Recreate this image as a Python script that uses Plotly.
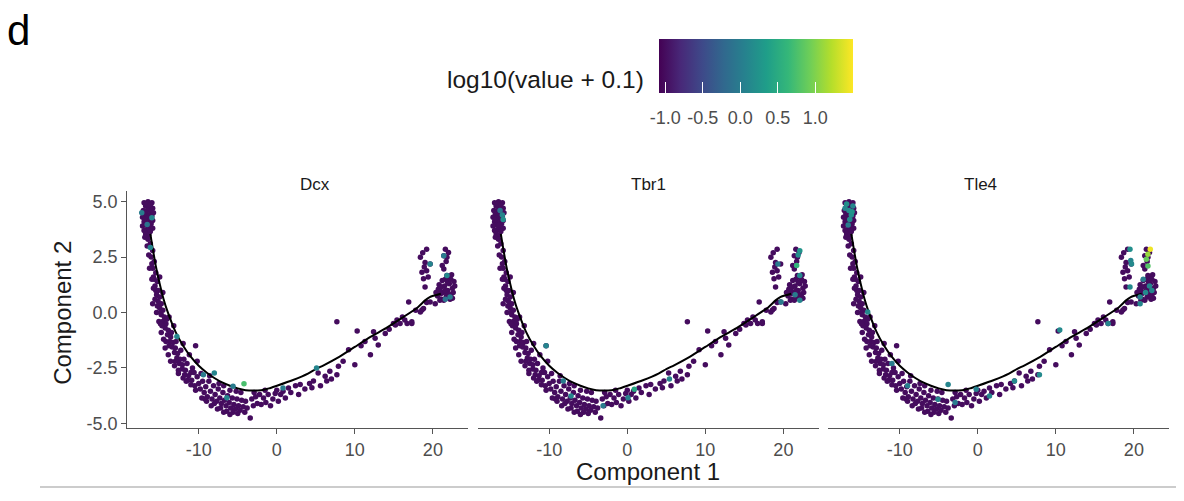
import plotly.graph_objects as go

# ---------------- data ----------------
genes = ["Dcx", "Tbr1", "Tle4"]

# shared cell coordinates (Component 1, Component 2)
cell_x = [
    # top-left cluster
    -17.0,-16.5,-16.0,-16.8,-16.3,-17.1,-16.6,-16.1,-15.9,-16.9,-16.4,-16.0,-17.2,-16.7,-16.2,-15.9,-17.0,-16.5,
    -16.1,-16.8,-17.2,-16.3,-15.9,-16.6,-17.0,-16.2,-16.8,-16.4,-16.9,-16.5,-16.7,-16.2,-15.8,-16.9,-16.4,
    # left arm
    -16.2,-15.9,-16.1,-15.7,-15.9,-15.5,-15.7,-15.3,-15.6,-15.2,-15.4,-15.0,-15.2,-14.8,-15.0,-14.6,-14.8,-14.4,
    -14.6,-14.2,-14.3,-13.9,-14.0,-13.6,-13.7,-13.3,-13.4,-13.0,-13.1,-12.7,-12.8,-12.4,-12.5,-12.1,-12.1,-11.7,
    -11.8,-11.3,-11.4,-10.9,-11.0,-10.5,-14.9,-13.5,-12.9,-12.3,-11.9,-11.5,-15.5,-14.1,
    -15.0,-14.6,-13.8,-13.2,-12.0,-11.2,-10.4,-10.8,-10.2,-11.0,-12.6,-13.0,-14.2,-14.7,-15.3,-15.8,-16.0,
    -16.6,-16.4,-16.3,-16.0,-15.8,-15.6,-15.4,-15.1,-14.8,-14.5,-14.3,-13.9,-13.6,-13.1,-12.6,-12.0,-11.6,
    -15.9,-14.9,-13.8,
    # bottom
    -10.2,-10.0,-9.8,-9.5,-9.3,-9.1,-8.9,-8.7,-8.5,-8.3,-8.1,-7.9,-7.7,-7.5,-7.3,-7.1,-6.9,-6.7,-6.5,-6.3,-6.1,
    -5.9,-5.7,-5.5,-5.3,-5.1,-4.9,-4.7,-4.5,-4.3,-4.0,-3.8,-3.4,-3.2,-3.0,-2.7,-2.5,-2.2,-2.0,-1.7,-1.4,-1.1,
    -0.8,-0.5,-0.2,0.2,0.5,0.8,1.1,-6.8,-5.2,-8.6,-9.7,-7.4,-4.6,-2.9,-1.5,0.0,-6.0,-10.6,-10.4,-9.0,-7.2,
    -5.6,-4.1,-6.4,1.5,
    -9.2,-8.4,-7.6,-6.8,-6.0,-5.0,-8.0,-9.6,
    # right arm
    1.8,2.4,2.8,3.0,3.6,4.2,4.5,4.7,5.3,5.6,6.2,6.4,6.8,7.0,7.7,7.9,7.7,8.5,9.2,10.0,10.3,10.8,11.3,12.0,12.4,
    12.6,13.0,13.9,14.4,14.95,15.4,15.8,16.1,16.4,16.7,17.3,17.3,15.2,16.9,17.8,18.4,18.6,18.8,19.2,19.65,20.3,20.9,
    # upper right arms
    19.2,18.4,19.0,19.65,18.6,19.2,18.8,19.0,18.9,19.4,18.7,
    21.6,22.0,21.4,21.8,21.2,21.8,21.4,21.7,
    # right blob
    20.6,20.9,21.1,21.3,21.5,21.7,21.9,22.1,22.3,22.5,22.7,20.8,21.2,21.6,22.0,22.4,22.6,21.0,21.4,21.8,22.2,
    22.8,20.7,21.9,22.3,21.1,21.6,22.0,22.5,20.4,
]
cell_y = [
    4.95,5.0,4.95,4.8,4.75,4.6,4.6,4.55,4.7,4.45,4.4,4.35,4.3,4.25,4.2,4.15,4.1,4.05,
    4.0,3.95,3.9,3.85,3.8,3.75,3.7,3.65,3.55,3.5,3.4,3.3,4.9,4.85,4.5,4.2,3.95,
    3.1,2.8,2.5,2.3,2.0,1.8,1.5,1.4,1.2,1.0,0.8,0.7,0.5,0.4,0.2,0.1,-0.1,-0.2,
    -0.4,-0.5,-0.7,-0.8,-1.0,-1.1,-1.3,-1.35,-1.55,-1.6,-1.8,-1.85,-2.05,-2.1,-2.3,-2.35,-2.55,-2.6,
    -2.8,-2.85,-3.05,-3.05,-3.25,-3.3,0.0,-0.9,-1.3,-1.7,-2.1,-2.3,1.0,-0.3,
    1.6,0.9,-0.2,-0.6,-1.4,-1.9,-1.5,-2.5,-2.2,-2.7,-2.6,-2.2,-1.3,-0.6,0.3,1.6,2.2,
    3.0,2.6,2.0,1.5,1.1,0.6,0.0,-0.4,-0.9,-1.2,-1.6,-1.9,-2.2,-2.4,-2.75,-2.95,-3.1,
    0.4,-0.5,-1.5,
    -2.9,-3.2,-3.45,-3.1,-3.6,-3.35,-3.8,-3.1,-3.55,-3.9,-3.3,-3.7,-4.0,-3.45,-3.85,-4.1,-3.6,-3.95,-4.2,-3.75,-4.05,
    -4.3,-3.85,-4.15,-4.35,-3.9,-4.2,-4.4,-3.95,-4.25,-4.0,-4.3,-4.75,-3.9,-4.2,-3.8,-4.1,-3.7,-4.15,-3.85,-4.05,-3.7,
    -4.2,-3.9,-3.65,-4.0,-3.7,-3.55,-3.85,-3.3,-3.55,-2.85,-2.75,-3.2,-3.6,-3.6,-3.5,-3.5,-3.5,-2.7,-3.5,-4.0,-4.3,
    -4.5,-4.5,-4.45,-3.4,
    -3.9,-4.2,-4.35,-4.5,-4.6,-4.55,-4.1,-3.85,
    -3.6,-3.3,-3.7,-3.24,-3.45,-3.2,-3.39,-3.09,-2.72,-3.3,-2.87,-3.09,-2.65,-3.0,-2.8,-2.42,-0.42,-2.2,-1.68,-2.35,-0.83,-1.5,-1.3,-1.9,-0.86,
    -1.16,-1.46,-0.94,-0.75,-0.49,-0.34,-0.49,-0.2,-0.34,-0.49,-0.49,-0.42,-0.56,0.48,0.1,0.03,0.11,0.18,0.45,0.48,0.4,0.55,
    2.86,2.49,2.26,2.19,1.82,1.89,1.52,1.15,2.05,1.6,2.7,
    2.86,2.71,2.56,2.49,2.12,1.67,1.96,2.3,
    0.75,1.0,0.6,0.9,1.2,0.7,1.0,1.3,0.8,1.1,1.4,1.25,1.45,1.5,1.6,1.7,0.9,0.85,0.55,0.85,0.6,
    1.2,1.05,1.35,1.5,1.15,1.0,0.8,0.65,0.9,
]
base_value = -1.0  # log10(0 + 0.1) for non-expressing cells

# expressing cells per gene: x, y, log10(value + 0.1)
dcx_x = [-17.3,-16.0,-16.6,-16.2,-12.8,-9.4,-8.0,-5.6,-6.4,-4.2,0.8,5.1,19.65,21.4,21.8,21.6,22.2]
dcx_y = [4.5,4.27,3.97,2.93,-1.08,-2.8,-2.72,-3.32,-3.84,-3.21,-3.4,-2.5,2.19,2.56,1.67,0.6,0.7]
dcx_v = [0.0,0.1,-0.1,0.1,0.1,0.0,0.1,0.0,0.1,0.75,0.0,0.1,0.1,0.0,0.15,-0.1,0.0]

tbr1_x = [-16.0,-15.9,-16.3,-10.4,-8.2,-7.2,-3.1,0.1,0.9,5.4,19.3,21.7,22.1,21.9,22.1,19.7,22.1,21.5]
tbr1_y = [4.4,4.2,4.6,-1.5,-3.09,-3.76,-4.2,-3.84,-3.46,-3.0,2.19,2.12,2.79,2.6,1.67,0.48,0.55,0.8]
tbr1_v = [0.1,0.2,-0.1,0.1,0.0,0.1,0.0,0.05,0.45,0.1,0.0,0.6,0.25,0.2,0.15,0.0,0.1,0.0]

tle4_x = [-16.8,-16.5,-16.2,-16.0,-16.4,-17.0,-16.1,-16.6,-14.1,-5.1,-3.8,-2.9,-0.2,1.5,4.7,7.9,10.5,16.7,
          19.5,19.7,19.6,19.5,22.1,21.8,21.6,21.8,22.0,21.5,20.8,22.3,21.2,20.8,-11.0,-9.0]
tle4_y = [4.9,4.6,4.4,4.8,4.2,4.7,4.55,3.95,0.03,-3.91,-3.24,-4.06,-3.46,-3.76,-3.09,-2.8,-0.79,-0.49,
          2.86,2.19,2.35,1.15,2.86,2.63,2.4,2.1,1.2,0.9,0.7,1.0,1.5,0.4,-2.3,-3.3]
tle4_v = [0.2,0.15,0.2,0.1,0.15,0.1,0.25,0.0,0.1,0.1,0.1,0.0,0.05,0.1,0.15,0.15,0.15,0.1,
          0.2,0.15,0.1,0.15,1.45,1.1,0.9,0.8,0.1,0.15,0.05,0.1,0.0,0.1,0.0,0.05]

# principal curve (trajectory)
curve_x = [-16.2,-15.5,-15.0,-14.5,-14.0,-13.0,-12.0,-11.0,-10.0,-9.0,-8.0,-7.0,-6.0,-5.0,-4.0,-3.0,-2.0,-1.0,
           0.0,2.0,4.0,5.0,6.0,8.0,10.0,12.0,14.0,16.0,18.0,19.0,19.6,21.0]
curve_y = [3.55,2.1,1.3,0.6,0.05,-0.85,-1.5,-2.0,-2.4,-2.7,-2.95,-3.15,-3.3,-3.42,-3.5,-3.52,-3.5,-3.42,
           -3.3,-3.05,-2.75,-2.55,-2.38,-2.0,-1.55,-1.1,-0.7,-0.25,0.22,0.55,0.7,0.85]

x_ticks = [-10, 0, 10, 20]
x_tick_text = ["-10", "0", "10", "20"]
y_ticks = [-5.0, -2.5, 0.0, 2.5, 5.0]
y_tick_text = ["-5.0", "-2.5", "0.0", "2.5", "5.0"]
cb_ticks = [-1.0, -0.5, 0.0, 0.5, 1.0]
cb_tick_text = ["-1.0", "-0.5", "0.0", "0.5", "1.0"]
cb_min, cb_max = -1.08, 1.507

# ---------------- figure ----------------
OFF = 8                      # page body margin of the html page
W, H = 1184 - 2 * OFF, 501 - 2 * OFF
FONT = "Liberation Sans, Arial, Helvetica, sans-serif"
GRAY = "#4d4d4d"
LINE = "#555555"

def fx(px):
    return (px - OFF) / W

def fy(py):
    return 1 - (py - OFF) / H

panel_px = [(127.3, 468.0), (477.8, 818.5), (828.3, 1169.0)]
y_dom = [fy(432.7), fy(192.7)]
x_range = [-19.15, 24.5]
y_range = [-5.22, 5.49]

highlights = {
    "Dcx": (dcx_x, dcx_y, dcx_v),
    "Tbr1": (tbr1_x, tbr1_y, tbr1_v),
    "Tle4": (tle4_x, tle4_y, tle4_v),
}
# two identical colour axes: one carries the labels, one the white in-bar ticks
cax_names = ["coloraxis", "coloraxis2", "coloraxis"]

fig = go.Figure()
for i, g in enumerate(genes):
    sfx = "" if i == 0 else str(i + 1)
    xa, ya = "x" + sfx, "y" + sfx
    fig.add_trace(go.Scatter(
        x=cell_x, y=cell_y, mode="markers", xaxis=xa, yaxis=ya,
        marker=dict(size=5.5, color=[base_value] * len(cell_x), coloraxis=cax_names[i], line=dict(width=0)),
        showlegend=False, hoverinfo="skip"))
    fig.add_trace(go.Scatter(
        x=curve_x, y=curve_y, mode="lines", xaxis=xa, yaxis=ya,
        line=dict(color="black", width=2, shape="spline", smoothing=0.6),
        showlegend=False, hoverinfo="skip"))
    hx, hy, hv = highlights[g]
    order = sorted(range(len(hv)), key=lambda k: hv[k])
    fig.add_trace(go.Scatter(
        x=[hx[k] for k in order], y=[hy[k] for k in order], mode="markers", xaxis=xa, yaxis=ya,
        marker=dict(size=5.5, color=[hv[k] for k in order], coloraxis="coloraxis", line=dict(width=0)),
        showlegend=False, hoverinfo="skip"))

    x0, x1 = panel_px[i]
    fig.layout["xaxis" + sfx] = dict(
        domain=[fx(x0), fx(x1)], range=x_range, anchor=ya, showgrid=False, zeroline=False,
        showline=True, linecolor=LINE, linewidth=1.3, ticks="outside", ticklen=5, tickwidth=1.3,
        tickcolor=LINE, tickvals=x_ticks, ticktext=x_tick_text,
        tickfont=dict(family=FONT, size=18, color=GRAY))
    fig.layout["yaxis" + sfx] = dict(
        domain=y_dom, range=y_range, anchor=xa, showgrid=False, zeroline=False,
        showline=(i == 0), linecolor=LINE, linewidth=1.3,
        ticks="outside" if i == 0 else "", ticklen=5, tickwidth=1.3, tickcolor=LINE,
        tickvals=y_ticks, ticktext=y_tick_text, showticklabels=(i == 0),
        tickfont=dict(family=FONT, size=18, color=GRAY))
    fig.add_annotation(text=g, x=fx((x0 + x1) / 2), y=fy(186), xref="paper", yref="paper",
                       showarrow=False, font=dict(family=FONT, size=17, color="#1a1a1a"))

CB_L, CB_R, CB_T, CB_B = 659.3, 853.3, 39.3, 93.3
cb_common = dict(orientation="h", x=fx((CB_L + CB_R) / 2), xanchor="center", y=fy(CB_T), yanchor="top",
                 len=CB_R - CB_L, lenmode="pixels", thickness=CB_B - CB_T, thicknessmode="pixels",
                 outlinewidth=0, xpad=0, ypad=0, tickvals=cb_ticks, ticktext=cb_tick_text)
fig.update_layout(
    width=W, height=H, margin=dict(l=0, r=0, t=0, b=0),
    paper_bgcolor="white", plot_bgcolor="white",
    coloraxis=dict(colorscale="Viridis", cmin=cb_min, cmax=cb_max,
                   colorbar=dict(**cb_common, ticks="outside", ticklen=10, tickcolor="white",
                                 tickfont=dict(family=FONT, size=18, color=GRAY))),
    coloraxis2=dict(colorscale="Viridis", cmin=cb_min, cmax=cb_max,
                    colorbar=dict(**cb_common, ticks="inside", ticklen=11, tickcolor="white",
                                  tickwidth=1, showticklabels=False)),
)

# white tick marks along the top edge of the colour bar (ggplot draws them on both edges)
for v in cb_ticks:
    px = CB_L + (v - cb_min) / (cb_max - cb_min) * (CB_R - CB_L)
    fig.add_shape(type="line", xref="paper", yref="paper", x0=fx(px), x1=fx(px),
                  y0=fy(CB_T), y1=fy(CB_T + 11), line=dict(color="white", width=1))

fig.add_annotation(text="d", x=fx(18), y=fy(31), xref="paper", yref="paper", showarrow=False,
                   xanchor="center", yanchor="middle", font=dict(family=FONT, size=42, color="black"))
fig.add_annotation(text="log10(value + 0.1)", x=fx(646), y=fy(80), xref="paper", yref="paper",
                   showarrow=False, xanchor="right", yanchor="middle",
                   font=dict(family=FONT, size=24.5, color="#1a1a1a"))
fig.add_annotation(text="Component 1", x=fx(648), y=fy(476), xref="paper", yref="paper",
                   showarrow=False, xanchor="center", yanchor="middle",
                   font=dict(family=FONT, size=24, color="#1a1a1a"))
fig.add_annotation(text="Component 2", x=fx(63), y=fy(316), xref="paper", yref="paper",
                   showarrow=False, textangle=-90, xanchor="center", yanchor="middle",
                   font=dict(family=FONT, size=24, color="#1a1a1a"))
fig.add_shape(type="line", xref="paper", yref="paper", x0=fx(40), x1=1.0, y0=fy(492), y1=fy(492),
              line=dict(color="#cccccc", width=2))

fig.write_html("out.html")
